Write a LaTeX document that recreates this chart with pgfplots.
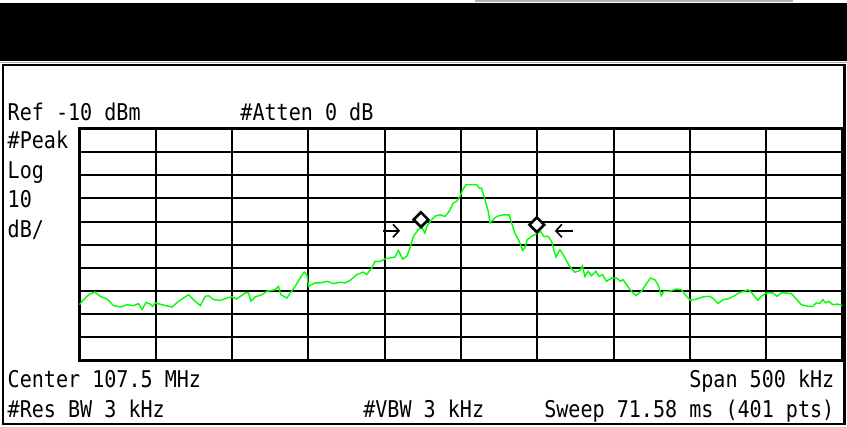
\documentclass[border=0pt]{standalone}
\usepackage{pgfplots}
\pgfplotsset{compat=1.18}
\usepackage{fontspec}
\usetikzlibrary{arrows.meta}
\newfontfamily\hp[FakeStretch=0.87]{DejaVu Sans Mono}
\definecolor{trace}{RGB}{0,255,0}
\begin{document}
\begin{tikzpicture}[x=1pt,y=1pt]
\fill[white] (0,0) rectangle (847,427);
\draw[gray!60, line width=1.2pt] (475,426) -- (793,426);
\fill[black] (0,366) rectangle (847,424);
\draw[gray!70, line width=1pt] (0,364.5) -- (847,364.5);
\draw[black, line width=2.2pt] (2.5,2.5) rectangle (845,362);
\begin{axis}[
  at={(79pt,66pt)}, anchor=south west,
  width=764pt, height=232pt, scale only axis,
  xmin=-250, xmax=250, ymin=-110, ymax=-10,
  xtick={-250,-200,...,250}, ytick={-110,-100,...,-10},
  xticklabels={}, yticklabels={},
  major tick length=0pt,
  grid=major,
  grid style={black, line width=2pt},
  axis line style={black, line width=3pt},
  clip=true,
]
\addplot[trace, line width=1.4pt] coordinates {
(-250,-85.9) (-248.2,-84.4) (-243.9,-81.6) (-240.0,-80.4) (-236.3,-82.3) (-231.9,-83.4)
(-227.6,-86.3) (-223.2,-86.9) (-218.8,-85.9) (-214.5,-86.3) (-211.2,-85.4) (-209.0,-88.0)
(-206.3,-84.9) (-204.2,-85.4) (-202.0,-86.6) (-200.3,-85.1) (-195.9,-85.9) (-189.3,-86.9)
(-185.0,-84.4) (-178.5,-81.6) (-174.1,-84.4) (-170.8,-86.3) (-167.5,-82.3) (-165.4,-82.0)
(-162.1,-83.7) (-157.7,-84.0) (-153.3,-83.0) (-150.1,-82.5) (-146.8,-83.4) (-141.4,-80.8)
(-139.2,-80.8) (-137.6,-84.4) (-134.8,-82.5) (-130.4,-81.6) (-127.2,-80.1) (-121.7,-79.4)
(-119.6,-78.0) (-118.0,-81.6) (-114.1,-83.0) (-111.5,-80.6) (-108.6,-78.0) (-105.4,-74.4)
(-102.7,-71.8) (-101.0,-72.9) (-99.9,-78.0) (-95.6,-76.5) (-92.3,-76.5) (-87.5,-75.8)
(-83.6,-76.8) (-79.2,-76.2) (-75.9,-76.5) (-72.6,-75.4) (-68.3,-72.9) (-63.9,-71.8)
(-61.7,-72.9) (-58.4,-70.0) (-56.3,-67.2) (-53.0,-67.2) (-49.1,-66.0) (-46.5,-65.7)
(-43.2,-65.3) (-41.0,-62.5) (-38.2,-66.2) (-35.5,-65.0) (-33.4,-61.4) (-31.2,-56.4)
(-27.9,-53.5) (-25.7,-52.4) (-23.6,-55.0) (-22.4,-52.1) (-19.2,-49.2) (-16.4,-47.5)
(-13.7,-47.1) (-10.5,-47.8) (-7.7,-45.6) (-5.0,-42.0) (-2.8,-41.3) (-0.7,-39.2)
(1.1,-36.3) (3.3,-34.1) (7.0,-34.1) (10.3,-34.1) (12.0,-35.6) (13.5,-35.6)
(15.7,-40.6) (17.9,-45.6) (19.0,-50.6) (21.1,-49.2) (23.4,-47.8) (27.7,-47.1)
(31.6,-47.1) (33.2,-50.6) (35.3,-55.0) (38.2,-58.6) (40.4,-62.5) (41.9,-61.4)
(43.4,-57.8) (46.3,-56.4) (49.5,-55.3) (52.2,-54.3) (54.3,-56.4) (57.1,-56.4)
(59.4,-58.6) (62.2,-65.3) (64.8,-62.2) (67.0,-64.3) (68.1,-65.7) (71.3,-69.4)
(74.6,-71.9) (77.9,-71.1) (79.6,-69.1) (81.2,-73.7) (83.3,-71.5) (85.5,-73.4)
(88.4,-71.5) (90.5,-73.7) (92.7,-72.9) (95.4,-75.8) (98.6,-74.4) (101.9,-74.4)
(104.5,-75.8) (106.2,-75.1) (108.4,-77.2) (111.7,-80.1) (114.5,-82.0) (118.3,-80.1)
(121.1,-77.2) (124.1,-74.4) (127.0,-75.1) (129.1,-77.2) (131.3,-82.0) (132.9,-80.1)
(136.8,-80.1) (141.2,-79.1) (144.4,-79.4) (147.7,-82.3) (150.3,-84.0) (153.1,-83.7)
(156.4,-83.0) (158.6,-82.5) (163.0,-82.3) (166.2,-83.7) (168.4,-85.4) (171.7,-83.7)
(174.9,-83.4) (179.3,-82.0) (182.6,-80.6) (185.9,-80.1) (188.0,-79.4) (190.3,-80.6)
(192.4,-82.3) (194.6,-84.0) (196.8,-82.3) (200.1,-80.8) (204.4,-80.8) (207.0,-82.3)
(209.9,-80.8) (213.2,-80.8) (216.4,-81.1) (219.7,-83.4) (223.0,-85.9) (227.3,-86.6)
(230.6,-86.6) (232.8,-85.1) (235.0,-85.4) (237.1,-83.7) (238.9,-85.1) (241.0,-84.4)
(243.6,-85.9) (246.9,-85.6) (249.8,-86.3)
};
\addplot[only marks, mark=square*, mark size=5.2pt,
  mark options={rotate=45, fill=white, draw=black, line width=2.6pt}]
  coordinates {(-26.2,-49.2) (49.7,-51.4)};
\draw[black, line width=1.6pt, -{Straight Barb[length=6pt,width=13pt]}]
  (axis cs:-51.0,-54.0) -- (axis cs:-39.9,-54.0);
\draw[black, line width=1.6pt, -{Straight Barb[length=6pt,width=13pt]}]
  (axis cs:73.3,-54.0) -- (axis cs:61.5,-54.0);
\end{axis}
\begin{scope}[every node/.style={inner sep=0pt, font=\hp\fontsize{23.1}{26}\selectfont}]
\node[anchor=base west] at (7,306) {Ref -10 dBm};
\node[anchor=base west] at (240,306) {\#Atten 0 dB};
\node[anchor=base west] at (7,278) {\#Peak};
\node[anchor=base west] at (7,248) {Log};
\node[anchor=base west] at (7,219) {10};
\node[anchor=base west] at (7,189) {dB/};
\node[anchor=base west] at (7,39) {Center 107.5 MHz};
\node[anchor=base west] at (7,9) {\#Res BW 3 kHz};
\node[anchor=base west] at (363,9) {\#VBW 3 kHz};
\node[anchor=base east] at (835,39) {Span 500 kHz};
\node[anchor=base east] at (835,9) {Sweep 71.58 ms (401 pts)};
\end{scope}
\path (0,0) rectangle (847,427);
\end{tikzpicture}
\end{document}
